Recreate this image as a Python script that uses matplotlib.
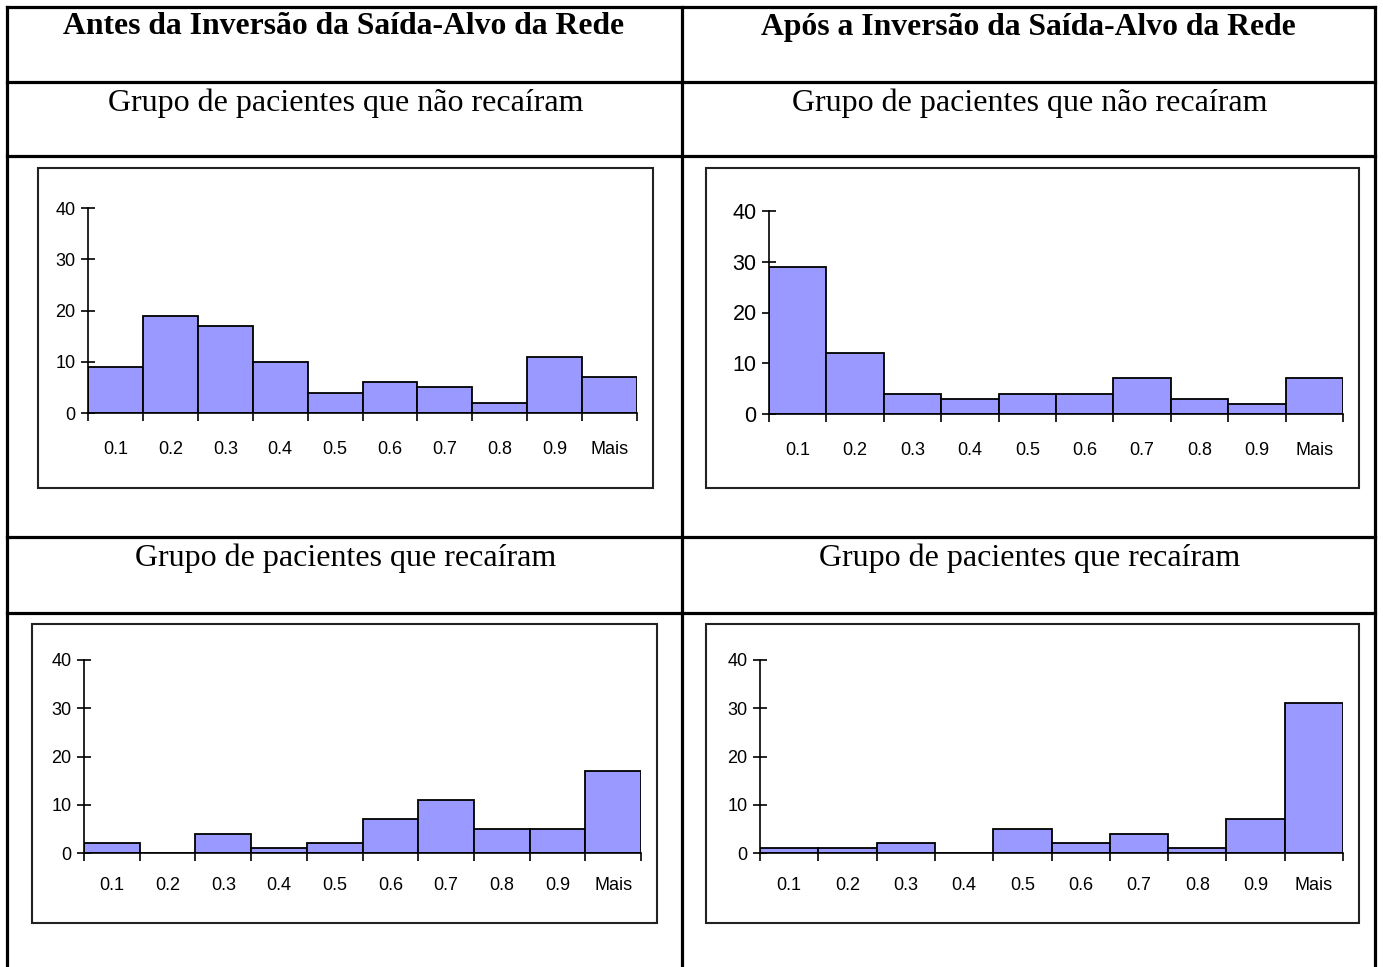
import matplotlib.pyplot as plt
from matplotlib.patches import Rectangle
import numpy as np

W, H = 1383, 967
DPI = 100

bins = ["0.1", "0.2", "0.3", "0.4", "0.5", "0.6", "0.7", "0.8", "0.9", "Mais"]
yticks = [0, 10, 20, 30, 40]

# frequency per bin of the network output
antes_nao_recairam = [9, 19, 17, 10, 4, 6, 5, 2, 11, 7]
apos_nao_recairam = [29, 12, 4, 3, 4, 4, 7, 3, 2, 7]
antes_recairam = [2, 0, 4, 1, 2, 7, 11, 5, 5, 17]
apos_recairam = [1, 1, 2, 0, 5, 2, 4, 1, 7, 31]

col_titles = [
    "Antes da Inversão da Saída-Alvo da Rede",
    "Após a Inversão da Saída-Alvo da Rede",
]
row_titles = [
    "Grupo de pacientes que não recaíram",
    "Grupo de pacientes que recaíram",
]

BAR_COLOR = "#9999FF"
SERIF = "Liberation Serif"
SANS = "Liberation Sans"


def px_axes(fig, x0, x1, y_top, y_bottom):
    return fig.add_axes(
        [x0 / W, 1 - y_bottom / H, (x1 - x0) / W, (y_bottom - y_top) / H]
    )


def histogram(fig, values, box, y_label_size=13, x_pad=19):
    ax = px_axes(fig, *box)
    x = np.arange(len(values)) + 0.5
    ax.bar(x, values, width=1.0, color=BAR_COLOR, edgecolor="black",
           linewidth=1.3, zorder=2)
    ax.set_xlim(0, len(values))
    ax.set_ylim(0, 40)
    for side in ["top", "right"]:
        ax.spines[side].set_visible(False)
    for side in ["left", "bottom"]:
        ax.spines[side].set_linewidth(1.2)
        ax.spines[side].set_zorder(3)
    ax.patch.set_visible(False)

    ax.set_xticks(np.arange(len(values) + 1))
    ax.set_xticklabels([])
    ax.set_xticks(x, minor=True)
    ax.set_xticklabels(bins, minor=True, fontfamily=SANS, fontsize=13)
    ax.tick_params(axis="x", which="major", direction="out", length=6,
                   width=1.2)
    ax.tick_params(axis="x", which="minor", length=0, pad=x_pad)

    ax.set_yticks(yticks)
    ax.set_yticklabels([str(v) for v in yticks], fontfamily=SANS,
                       fontsize=y_label_size)
    ax.tick_params(axis="y", direction="inout", length=10, width=1.2, pad=4)
    return ax


fig = plt.figure(figsize=(W / DPI, H / DPI), dpi=DPI)

bg = fig.add_axes([0, 0, 1, 1])
bg.set_xlim(0, W)
bg.set_ylim(H, 0)
bg.axis("off")

# table grid
for y in [7, 82, 156, 537, 613]:
    bg.plot([7, 1375], [y, y], color="black", lw=2.3, solid_capstyle="projecting")
for x in [7, 682, 1375]:
    bg.plot([x, x], [7, H + 5], color="black", lw=2.3, solid_capstyle="projecting")

# column headers and row titles
for cx, title in zip([344, 1028], col_titles):
    bg.text(cx, 27, title, ha="center", va="center", fontfamily=SERIF,
            fontweight="bold", fontsize=22.8)
for cy, title in zip([103, 558], row_titles):
    for cx in [346, 1030]:
        bg.text(cx, cy, title, ha="center", va="center", fontfamily=SERIF,
                fontsize=23)

# chart frames
frames = [(38, 168, 615, 320), (706, 168, 653, 320),
          (32, 624, 625, 299), (706, 624, 653, 299)]
for fx, fy, fw, fh in frames:
    bg.add_patch(Rectangle((fx, fy), fw, fh, fill=False, edgecolor="#222222",
                           linewidth=1.5))

histogram(fig, antes_nao_recairam, (88, 637, 208, 413), x_pad=20)
histogram(fig, apos_nao_recairam, (769, 1343, 211, 414), y_label_size=15.5,
          x_pad=20)
histogram(fig, antes_recairam, (84, 641, 660, 853), x_pad=17)
histogram(fig, apos_recairam, (760, 1343, 660, 853), x_pad=17)

fig.savefig("out.png", dpi=DPI)
